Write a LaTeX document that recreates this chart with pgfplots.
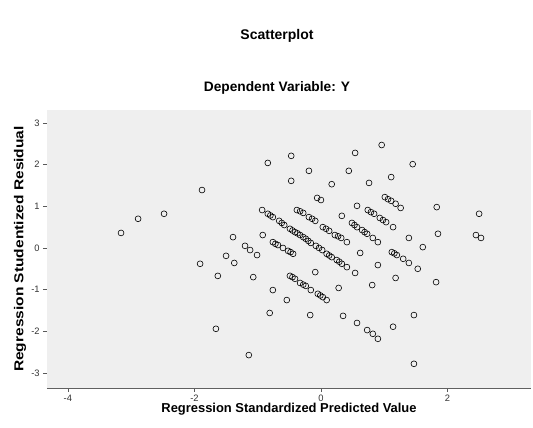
\documentclass[border=0pt]{standalone}
\usepackage{fontspec}
\setmainfont{Liberation Sans}
\usepackage{pgfplots}
\pgfplotsset{compat=1.18}
\definecolor{bgray}{HTML}{EFEFEF}
\begin{document}
\begin{tikzpicture}
\path[use as bounding box] (-35.25pt,-30pt) rectangle (364.5pt,291pt);
\begin{axis}[
  at={(0,0)}, anchor=south west,
  scale only axis, width=363pt, height=208.5pt,
  xmin=-4.33, xmax=3.32, ymin=-3.36, ymax=3.31,
  axis x line*=bottom, axis y line*=left,
  x axis line style={draw=gray!75!black, -},
  y axis line style={draw=bgray, -},
  axis background/.style={fill=bgray},
  tick align=outside, major tick length=3pt,
  tick style={gray!70!black, line width=0.4pt},
  xtick={-4,-2,0,2}, xticklabels={-4,-2,0,2},
  ytick={-3,-2,-1,0,1,2,3}, yticklabels={-3,-2,-1,0,1,2,3},
  ticklabel style={font=\fontsize{7}{8}\selectfont, text=black!80},
  xticklabel style={yshift=1pt},
  yticklabel style={xshift=1pt},
  xlabel={Regression Standardized Predicted Value},
  ylabel={\scalebox{1.2}[1]{Regression Studentized Residual}},
  label style={font=\bfseries\fontsize{9.7}{11}\selectfont},
  xlabel style={at={(axis description cs:0.5,-0.0755)}, anchor=center},
  ylabel style={at={(axis description cs:-0.0558,0.5)}, anchor=center},
  clip=false,
]
\addplot[only marks, mark=o, mark size=2.2pt, mark options={line width=0.45pt, black}] coordinates {
(-3.16,0.36) (-2.89,0.70) (-2.48,0.82) (-1.88,1.39) (-1.91,-0.38) (-1.63,-0.67)
(-1.66,-1.94) (-1.14,-2.57) (-0.84,2.04) (-0.47,2.21) (-0.47,1.61) (-0.19,1.85)
(0.54,2.28) (0.96,2.47) (1.45,2.01) (0.44,1.85) (0.17,1.53) (0.76,1.56) (1.11,1.70)
(-0.06,1.20) (0,1.15) (0.57,1.01) (0.33,0.77) (1.83,0.98) (2.50,0.82) (2.45,0.31)
(2.53,0.24) (1.85,0.34) (1.39,0.24) (1.61,0.02) (-0.93,0.91) (-1.39,0.26) (-0.92,0.31)
(-1.50,-0.19) (-1.37,-0.36) (-1.07,-0.70) (-0.76,-1.01) (-0.54,-1.25) (-0.81,-1.56)
(-0.17,-1.61) (-0.09,-0.58) (0.28,-0.96) (0.54,-0.60) (0.81,-0.89) (0.62,-0.12)
(0.90,-0.41) (1.18,-0.72) (1.53,-0.50) (1.82,-0.82) (0.35,-1.63) (0.57,-1.80)
(0.73,-1.97) (0.82,-2.06) (0.90,-2.18) (1.14,-1.89) (1.47,-1.61) (1.47,-2.78)
(-0.84,0.82) (-0.80,0.78) (-0.76,0.74) (-0.66,0.65) (-0.62,0.60) (-0.58,0.55)
(-0.49,0.46) (-0.45,0.42) (-0.41,0.38) (-0.37,0.35) (-0.33,0.31) (-0.28,0.26)
(-0.24,0.22) (-0.20,0.17) (-0.16,0.12) (-0.08,0.05) (-0.03,0.00) (0.02,-0.05)
(0.09,-0.14) (0.13,-0.18) (0.17,-0.22) (0.25,-0.29) (0.29,-0.33) (0.33,-0.38) (0.41,-0.46)
(-0.38,0.91) (-0.33,0.88) (-0.28,0.84) (-0.19,0.74) (-0.14,0.70) (-0.09,0.65)
(0.03,0.50) (0.08,0.46) (0.13,0.41) (0.22,0.31) (0.27,0.28) (0.32,0.24) (0.41,0.14)
(0.49,0.60) (0.53,0.55) (0.57,0.50) (0.65,0.43) (0.69,0.38) (0.73,0.34) (0.82,0.24) (0.90,0.14)
(1.12,-0.10) (1.16,-0.13) (1.20,-0.17) (1.30,-0.26) (1.39,-0.36)
(0.74,0.91) (0.79,0.86) (0.84,0.82) (0.93,0.72) (0.98,0.67) (1.03,0.62) (1.14,0.50)
(1.01,1.22) (1.06,1.17) (1.11,1.13) (1.18,1.06) (1.26,0.96)
(-0.76,0.14) (-0.72,0.10) (-0.68,0.07) (-0.60,0.0) (-0.52,-0.07) (-0.48,-0.10) (-0.44,-0.14)
(-1.20,0.05) (-1.12,-0.05) (-1.01,-0.17)
(-0.49,-0.67) (-0.45,-0.70) (-0.41,-0.74) (-0.33,-0.84) (-0.28,-0.88) (-0.24,-0.91)
(-0.16,-1.01) (-0.05,-1.10) (-0.01,-1.14) (0.03,-1.18) (0.09,-1.25)
};
\end{axis}
\node[font=\bfseries\fontsize{10.5}{12}\selectfont] at (172.5pt,264pt) {Scatterplot};
\node[font=\bfseries\fontsize{10.3}{12}\selectfont] at (172.5pt,225pt) {Dependent Variable: Y};
\end{tikzpicture}
\end{document}
